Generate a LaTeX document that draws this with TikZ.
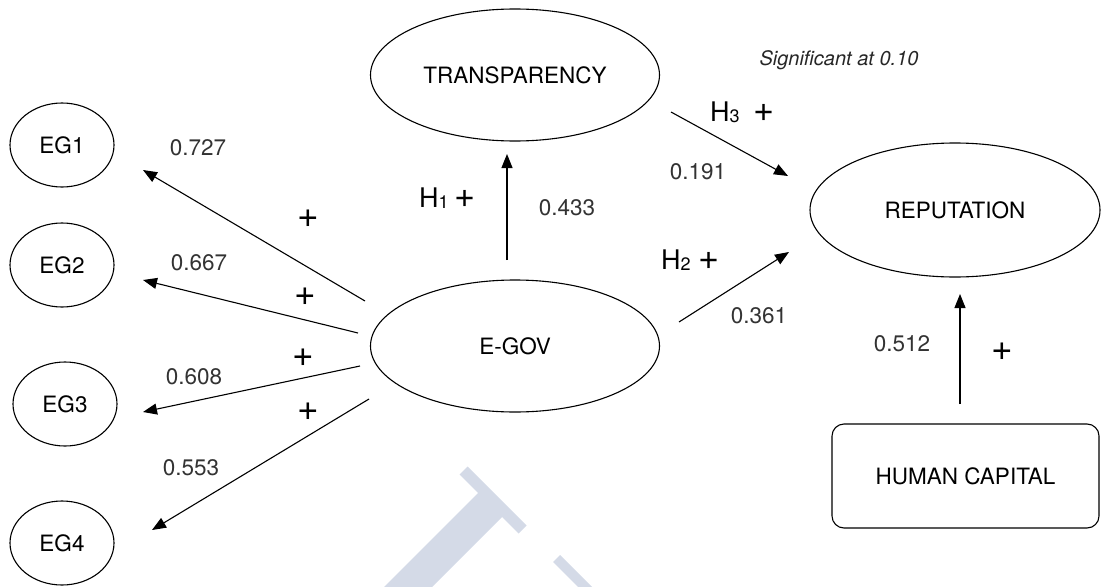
\documentclass[tikz,border=0pt]{standalone}
\usepackage{fontspec}
\setmainfont{TeX Gyre Heros}
\usetikzlibrary{shapes.geometric,arrows.meta}
\definecolor{wmark}{RGB}{212,218,231}
\newcommand{\hyp}[2]{{\fontsize{27}{30}\selectfont H}\raisebox{-1pt}{\fontsize{18}{20}\selectfont #1}#2{\fontsize{36}{36}\selectfont +}}
\begin{document}
\begin{tikzpicture}[x=1pt,y=-1pt,
  latent/.style={draw, ellipse, line width=1.1pt, inner sep=0pt,
    font=\fontsize{22.5}{26}\selectfont},
  small/.style={latent, minimum width=104pt, minimum height=84pt},
  big/.style={latent, minimum width=289pt, minimum height=132pt},
  manifest/.style={draw, rectangle, rounded corners=12pt, line width=1.1pt,
    minimum width=267pt, minimum height=104pt, font=\fontsize{22.5}{26}\selectfont},
  coef/.style={text=black!80, font=\fontsize{22.5}{26}\selectfont, inner sep=0pt},
  sign/.style={font=\fontsize{37}{37}\selectfont, inner sep=0pt},
  hyplabel/.style={anchor=west, inner sep=0pt},
  arr/.style={-{Triangle[length=14pt,width=11pt]}, line width=1.1pt}]
\useasboundingbox (0,0) rectangle (1102,586);

% faint logo in the background
\begin{scope}
  \clip (0,0) rectangle (1102,586);
  \fill[wmark] (467.5,466.5) -- (526.5,525.5) -- (518.5,533.5) -- (502,517)
    -- (359.5,659.5) -- (335.5,635.5) -- (478,493) -- (459.5,474.5) -- cycle;
  \fill[wmark] (560,555) -- (602.5,597.5) -- (595.5,604.5) -- (553,562) -- cycle;
\end{scope}

% constructs
\node[small] (eg1) at (62,145) {EG1};
\node[small] (eg2) at (62,265) {EG2};
\node[small] (eg3) at (65,404) {EG3};
\node[small] (eg4) at (62,543) {EG4};
\node[big] (transp) at (515,75) {TRANSPARENCY};
\node[big] (egov) at (515,346) {E-GOV};
\node[big, minimum width=290pt, minimum height=134pt] (rep) at (955,210) {REPUTATION};
\node[manifest] (hc) at (965.5,476) {HUMAN CAPITAL};

% connector ends
\coordinate (egov-o1) at (365,301);  \coordinate (eg1-i) at (143,170);
\coordinate (egov-o2) at (358,333);  \coordinate (eg2-i) at (143,280);
\coordinate (egov-o3) at (360,366);  \coordinate (eg3-i) at (143,412);
\coordinate (egov-o4) at (369,399);  \coordinate (eg4-i) at (152,530);
\coordinate (egov-top) at (507,260); \coordinate (transp-i) at (507,154);
\coordinate (transp-o) at (671,112); \coordinate (rep-i1) at (788,176);
\coordinate (egov-o5) at (679,322);  \coordinate (rep-i2) at (789,252);
\coordinate (hc-top) at (960,404);   \coordinate (rep-i3) at (960,294);

% paths
\draw[arr] (egov-o1) -- (eg1-i);
\draw[arr] (egov-o2) -- (eg2-i);
\draw[arr] (egov-o3) -- (eg3-i);
\draw[arr] (egov-o4) -- (eg4-i);
\draw[arr] (egov-top) -- (transp-i);
\draw[arr] (transp-o) -- (rep-i1);
\draw[arr] (egov-o5) -- (rep-i2);
\draw[arr] (hc-top) -- (rep-i3);

% loadings and path coefficients
\node[coef] (c1) at (198,148) {0.727};
\node[coef] (c2) at (199,263) {0.667};
\node[coef] (c3) at (194,377) {0.608};
\node[coef] (c4) at (191,468) {0.553};
\node[coef] (c5) at (567,208) {0.433};
\node[coef] (c6) at (698,172) {0.191};
\node[coef] (c7) at (759,316) {0.361};
\node[coef] (c8) at (902,344) {0.512};

% signs
\node[sign] (s1) at (308,219) {+};
\node[sign] (s2) at (305,297) {+};
\node[sign] (s3) at (303,358) {+};
\node[sign] (s4) at (308,412) {+};
\node[sign] (s5) at (1002,352) {+};

% hypotheses
\node[hyplabel] (h1) at (419,198) {\hyp{1}{\hspace{6pt}}};
\node[hyplabel] (h3) at (710,112) {\hyp{3}{\hspace{14pt}}};
\node[hyplabel] (h2) at (661,260) {\hyp{2}{\hspace{8pt}}};

\node[inner sep=0pt, text=black!85, font=\fontsize{20}{23}\selectfont\itshape] (note) at (839,60) {Significant at 0.10};
\end{tikzpicture}
\end{document}
